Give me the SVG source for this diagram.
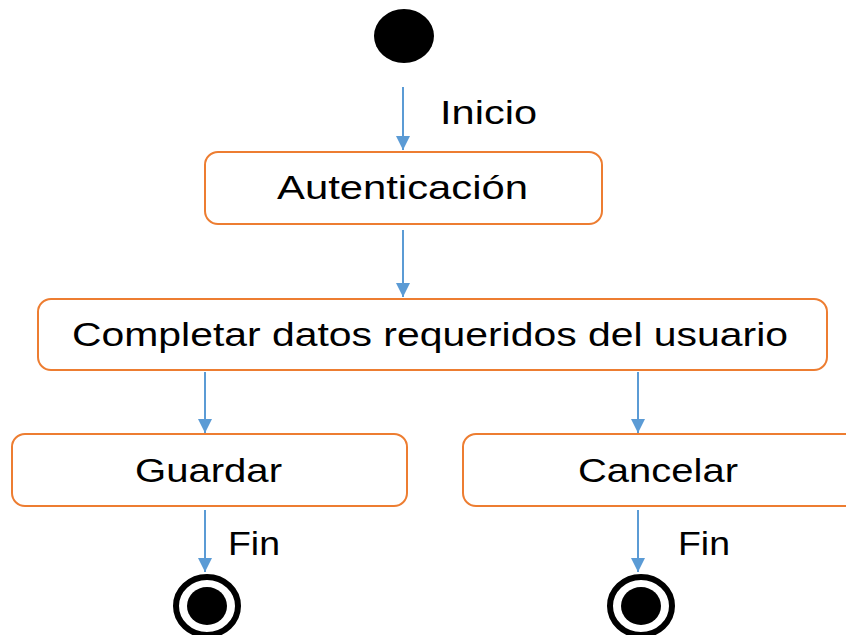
<svg xmlns="http://www.w3.org/2000/svg" width="846" height="635" viewBox="0 0 846 635">
<style>
.box{fill:#fff;stroke:#ED7D31;stroke-width:2}
.t{font-family:"Liberation Sans",Arial,sans-serif;font-size:34px;fill:#000}
.c{stroke:#5B9BD5;stroke-width:2;fill:none;marker-end:url(#ah)}
</style>
<defs>
<marker id="ah" markerWidth="14" markerHeight="14" refX="12" refY="6" orient="auto" markerUnits="userSpaceOnUse" viewBox="0 0 12 12">
<path d="M0,0 L12,6 L0,12 z" fill="#5B9BD5"/>
</marker>
</defs>
<rect width="846" height="635" fill="#fff"/>
<g id="connectors">
<line class="c" x1="403" y1="87" x2="403" y2="150"/>
<line class="c" x1="403" y1="230" x2="403" y2="297"/>
<line class="c" x1="205" y1="372" x2="205" y2="433"/>
<line class="c" x1="638" y1="372" x2="638" y2="433"/>
<line class="c" x1="205" y1="510" x2="205" y2="572"/>
<line class="c" x1="638" y1="510" x2="638" y2="572"/>
<text class="t" x="440" y="124" textLength="97" lengthAdjust="spacingAndGlyphs">Inicio</text>
<text class="t" x="228" y="555" textLength="52" lengthAdjust="spacingAndGlyphs">Fin</text>
<text class="t" x="678" y="555" textLength="52" lengthAdjust="spacingAndGlyphs">Fin</text>
</g>
<g id="start">
<ellipse cx="404" cy="36" rx="30" ry="27" fill="#000"/>
</g>
<g id="autenticacion">
<rect class="box" x="205" y="152" width="397" height="72" rx="13"/>
<text class="t" x="277" y="199" textLength="251" lengthAdjust="spacingAndGlyphs">Autenticación</text>
</g>
<g id="completar">
<rect class="box" x="38" y="299" width="789" height="71" rx="13"/>
<text class="t" x="72" y="346" textLength="716" lengthAdjust="spacingAndGlyphs">Completar datos requeridos del usuario</text>
</g>
<g id="guardar">
<rect class="box" x="12" y="434" width="395" height="72" rx="13"/>
<text class="t" x="135" y="482" textLength="147" lengthAdjust="spacingAndGlyphs">Guardar</text>
</g>
<g id="cancelar">
<rect class="box" x="463" y="434" width="400" height="72" rx="13"/>
<text class="t" x="578" y="482" textLength="160" lengthAdjust="spacingAndGlyphs">Cancelar</text>
</g>
<g id="end1">
<ellipse cx="207" cy="606" rx="31" ry="29" fill="#fff" stroke="#000" stroke-width="6"/>
<ellipse cx="207" cy="606" rx="20" ry="19" fill="#000"/>
</g>
<g id="end2">
<ellipse cx="641" cy="606" rx="31" ry="29" fill="#fff" stroke="#000" stroke-width="6"/>
<ellipse cx="641" cy="606" rx="20" ry="19" fill="#000"/>
</g>
</svg>
